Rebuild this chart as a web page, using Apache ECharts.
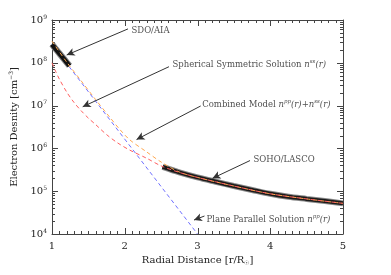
<!DOCTYPE html>
<html><head><meta charset="utf-8">
<script src="https://cdn.jsdelivr.net/npm/echarts@6/dist/echarts.min.js"></script>
<style>html,body{margin:0;padding:0;background:#fff}#c{width:391px;height:275px}</style>
</head><body><div id="c"></div>
<script>
// ---- data ----
const xTicks = [1, 2, 3, 4, 5];
const yTickExponents = [4, 5, 6, 7, 8, 9];

const sdoR = [1.00, 1.04, 1.08, 1.12, 1.16, 1.20, 1.24];
const sdoN = [2.7e8, 2.22e8, 1.83e8, 1.51e8, 1.25e8, 1.03e8, 8.5e7];

const lascoR = [2.52, 2.75, 3.0, 3.25, 3.5, 3.75, 4.0, 4.25, 4.5, 4.75, 5.0];
const lascoN = [3.7e5, 2.75e5, 2.1e5, 1.66e5, 1.32e5, 1.07e5, 8.7e4, 7.4e4, 6.6e4, 5.9e4, 5.2e4];

const planeR = [1.0, 3.0];
const planeN = [2.7e8, 1.0e4];

const sphereR = [1.0, 1.05, 1.1, 1.2, 1.3, 1.4, 1.5, 1.6, 1.75, 1.9, 2.07, 2.3, 2.5, 2.75, 3.0, 3.25, 3.5, 4.0, 4.5, 5.0];
const sphereN = [1.0e8, 6.3e7, 4.2e7, 2.1e7, 1.2e7, 7.6e6, 5.1e6, 3.6e6, 2.1e6, 1.35e6, 9.1e5, 5.9e5, 3.9e5, 2.75e5, 2.1e5, 1.66e5, 1.32e5, 8.7e4, 6.6e4, 5.2e4];

const combR = [1.0, 1.2, 1.4, 1.6, 1.8, 1.93, 2.07, 2.3, 2.5, 2.75, 3.0, 3.5, 4.0, 4.5, 5.0];
const combN = [3.2e8, 1.05e8, 3.8e7, 1.38e7, 5.2e6, 2.8e6, 1.58e6, 8.3e5, 4.8e5, 2.8e5, 2.1e5, 1.32e5, 8.7e4, 6.6e4, 5.2e4];

// annotations: text and anchor (r, n), arrow tail (r, n) and head (r, n)
const annoText = [
  '{t|SDO/AIA}',
  '{t|Spherical Symmetric Solution }{i|n}{s|ss}{i|(r)}',
  '{t|Combined Model }{i|n}{s|pp}{i|(r)+n}{s|ss}{i|(r)}',
  '{t|SOHO/LASCO}',
  '{t|Plane Parallel Solution }{i|n}{s|pp}{i|(r)}'
];
const annoR = [2.086, 2.649, 3.058, 3.763, 3.117];
const annoN = [5.7e8, 9.2e7, 1.07e7, 5.56e5, 2.2e4];
const arrowFromR = [2.045, 2.608, 3.044, 3.722, 3.096];
const arrowFromN = [6.2e8, 8.1e7, 9.8e6, 5.2e5, 2.63e4];
const arrowToR = [1.202, 1.422, 2.162, 3.206, 2.952];
const arrowToN = [1.52e8, 9.4e6, 1.61e6, 2.0e5, 2.12e4];

// ---- build ----
const X_MIN = 1, X_MAX = 5, Y_MIN = 1e4, Y_MAX = 1e9;
const pairs = (a, b) => a.map((v, i) => [v, b[i]]);

// tick positions (kind: 0 x-major, 1 x-minor, 2 y-major, 3 y-minor)
const tickData = [];
xTicks.forEach(v => tickData.push([v, Y_MIN, 0]));
for (let i = 0; i < xTicks.length - 1; i++)
  for (let k = 1; k < 10; k++) tickData.push([+(xTicks[i] + k / 10).toFixed(2), Y_MIN, 1]);
yTickExponents.forEach(e => tickData.push([X_MIN, Math.pow(10, e), 2]));
for (let i = 0; i < yTickExponents.length - 1; i++)
  for (let k = 2; k <= 9; k++) tickData.push([X_MIN, k * Math.pow(10, yTickExponents[i]), 3]);

const FONT = 'DejaVu Serif';
const TXT = '#222';
const AX = '#444';

function renderTick(params, api) {
  const kind = api.value(2);
  const len = (kind === 0 || kind === 2) ? 6 : 3;
  const st = {stroke: AX, lineWidth: 1, fill: null};
  if (kind < 2) {
    const b = api.coord([api.value(0), Y_MIN]);
    const t = api.coord([api.value(0), Y_MAX]);
    const x = Math.round(b[0]) + 0.5;
    return {type: 'group', children: [
      {type: 'line', shape: {x1: x, y1: b[1], x2: x, y2: b[1] - len}, style: st},
      {type: 'line', shape: {x1: x, y1: t[1], x2: x, y2: t[1] + len}, style: st}
    ]};
  }
  const l = api.coord([X_MIN, api.value(1)]);
  const r = api.coord([X_MAX, api.value(1)]);
  const y = Math.round(l[1]) + 0.5;
  return {type: 'group', children: [
    {type: 'line', shape: {x1: l[0], y1: y, x2: l[0] + len, y2: y}, style: st},
    {type: 'line', shape: {x1: r[0], y1: y, x2: r[0] - len, y2: y}, style: st}
  ]};
}

const richAnno = {
  t: {fontFamily: FONT, fontSize: 8.5, color: TXT},
  i: {fontFamily: FONT, fontSize: 8.5, color: TXT, fontStyle: 'italic'},
  s: {fontFamily: FONT, fontSize: 5.5, color: TXT, fontStyle: 'italic', padding: [0, 0, 5, 0]}
};

function xAxisOf(pos, extra) {
  return Object.assign({
    type: 'value', min: X_MIN, max: X_MAX, interval: 1, position: pos,
    axisLine: {show: true, onZero: false, lineStyle: {color: AX, width: 1}},
    axisTick: {show: false}, minorTick: {show: false},
    splitLine: {show: false}, minorSplitLine: {show: false},
    axisLabel: {show: false}
  }, extra || {});
}
function yLogOf(pos, extra) {
  return Object.assign({
    type: 'log', min: Y_MIN, max: Y_MAX, position: pos,
    axisLine: {show: true, onZero: false, lineStyle: {color: AX, width: 1}},
    axisTick: {show: false},
    splitLine: {show: false},
    axisLabel: {show: false}
  }, extra || {});
}

const chart = echarts.init(document.getElementById('c'), null, {renderer: 'canvas'});
chart.setOption({
  animation: false,
  backgroundColor: '#fff',
  grid: {left: 52, right: 48, top: 20, bottom: 41},
  xAxis: [
    xAxisOf('bottom', {
      axisLabel: {show: true, margin: 7, fontFamily: FONT, fontSize: 10, color: TXT,
        formatter: v => xTicks.includes(v) ? String(v) : ''},
      name: '{t|Radial Distance [r/R}{u|☉}{t|]}',
      nameLocation: 'middle', nameGap: 18,
      nameTextStyle: {rich: {
        t: {fontFamily: FONT, fontSize: 10, color: TXT},
        u: {fontFamily: FONT, fontSize: 6, color: TXT, padding: [6, 0, 0, 0]}
      }}
    }),
    xAxisOf('top')
  ],
  yAxis: [
    yLogOf('left', {
      axisLabel: {show: true, margin: 5, formatter: v => {
          const e = Math.round(Math.log10(v));
          return yTickExponents.includes(e) ? '{b|10}{s|' + e + '}' : '';
        },
        rich: {
          b: {fontFamily: FONT, fontSize: 10, color: TXT},
          s: {fontFamily: FONT, fontSize: 6, color: TXT, padding: [0, 0, 6, 0]}
        }},
      name: '{t|Electron Desnity [cm}{s|−3}{t|]}',
      nameLocation: 'middle', nameGap: 27, nameRotate: 90,
      nameTextStyle: {rich: {
        t: {fontFamily: FONT, fontSize: 10, color: TXT},
        s: {fontFamily: FONT, fontSize: 6, color: TXT, padding: [0, 0, 6, 0]}
      }}
    }),
    yLogOf('right')
  ],
  series: [
    {type: 'custom', name: 'ticks', renderItem: renderTick, data: tickData,
      dimensions: ['x', 'y', 'kind'], encode: {x: 0, y: 1}, clip: false, silent: true, z: 1},
    {type: 'line', name: 'plane', data: pairs(planeR, planeN), showSymbol: false,
      lineStyle: {color: '#7070ff', width: 1, type: [4, 3]}, z: 2},
    {type: 'line', name: 'sdoEdge', data: pairs(sdoR, sdoN), showSymbol: false,
      lineStyle: {color: '#888', width: 6.5}, z: 3},
    {type: 'line', name: 'sdo', data: pairs(sdoR, sdoN), showSymbol: false,
      lineStyle: {color: '#111', width: 4.5}, z: 3},
    {type: 'line', name: 'lascoEdge', data: pairs(lascoR, lascoN), showSymbol: false, smooth: 0.3,
      lineStyle: {color: '#888', width: 6}, z: 3},
    {type: 'line', name: 'lasco', data: pairs(lascoR, lascoN), showSymbol: false, smooth: 0.3,
      lineStyle: {color: '#1a1a1a', width: 4}, z: 3},
    {type: 'line', name: 'combined', data: pairs(combR, combN), showSymbol: false, smooth: 0.3,
      lineStyle: {color: '#ffa850', width: 1, type: [4, 3]}, z: 4},
    {type: 'line', name: 'sphere', data: pairs(sphereR, sphereN), showSymbol: false, smooth: 0.3,
      lineStyle: {color: '#ff6060', width: 1, type: [4, 3]}, z: 5},
    {type: 'scatter', name: 'labels', symbolSize: 1, itemStyle: {color: 'rgba(0,0,0,0)'},
      data: annoText.map((t, i) => ({value: [annoR[i], annoN[i]], label: {formatter: t}})),
      label: {show: true, position: 'right', distance: 0, rich: richAnno},
      z: 6,
      markLine: {
        silent: true, symbol: ['none', 'arrow'], symbolSize: [6, 8], animation: false,
        lineStyle: {color: '#333', width: 1, type: 'solid'},
        label: {show: false},
        data: arrowFromR.map((r, i) => [{coord: [r, arrowFromN[i]]}, {coord: [arrowToR[i], arrowToN[i]]}])
      }}
  ]
});
</script></body></html>
